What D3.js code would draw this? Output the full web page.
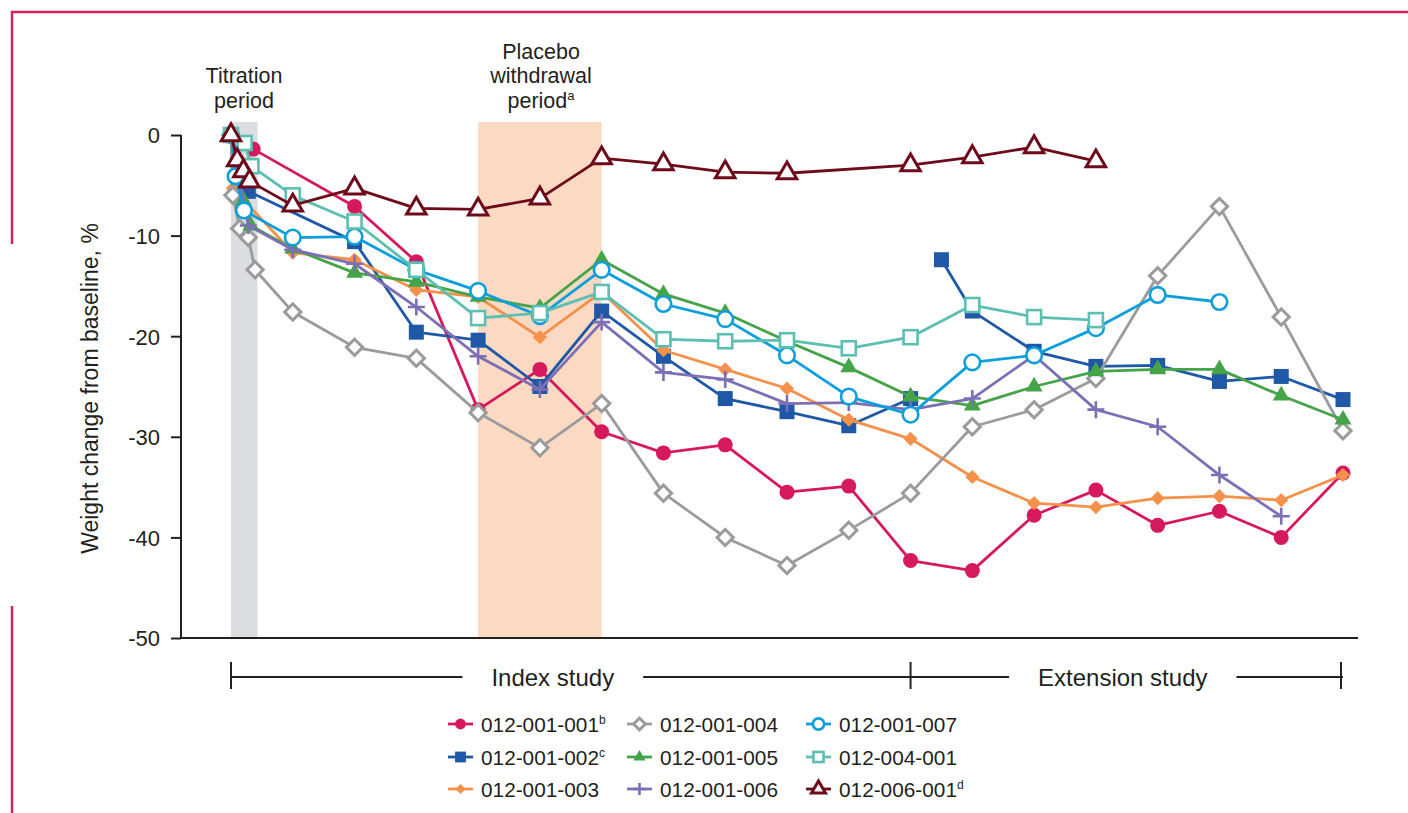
<!DOCTYPE html>
<html><head><meta charset="utf-8">
<script src="https://cdn.jsdelivr.net/npm/d3@7"></script>
<style>
html,body{margin:0;padding:0;background:#fff;}
svg{display:block;font-family:"Liberation Sans",Arial,Helvetica,sans-serif;}
</style></head><body>
<svg id="chart" width="1408" height="813"></svg>
<script>
// ---------------- data ----------------
const seriesNames = ["012-001-001","012-001-002","012-001-003","012-001-004","012-001-005","012-001-006","012-001-007","012-004-001","012-006-001"];
const seriesSup = ["b","c","","","","","","","d"];
const seriesColors = ["#d6195c","#1f58a6","#f5914a","#9b9b9b","#45a348","#7c6fb5","#0c9fdc","#5cbfb1","#6e0b1b"];
const seriesMarkers = ["circleFilled","squareFilled","diamondFilled","diamondOpen","triangleFilled","plus","circleOpen","squareOpen","triangleOpen"];

// visit positions (x) and weight change, % (y)
const x001 = [0, 0.36, 2, 3, 4, 5, 6, 7, 8, 9, 10, 11, 12, 13, 14, 15, 16, 17, 18];
const y001 = [0, -1.4, -7.1, -12.6, -27.3, -23.3, -29.5, -31.6, -30.8, -35.5, -34.9, -42.3, -43.3, -37.8, -35.3, -38.8, -37.4, -40.0, -33.6];

const x002 = [0, 0.28, 2, 3, 4, 5, 6, 7, 8, 9, 10, 11, 11.25, 11.5, 12, 13, 14, 15, 16, 17, 18];
const y002 = [0, -5.6, -10.6, -19.6, -20.4, -25.0, -17.5, -22.0, -26.2, -27.5, -28.9, -26.2, null, -12.4, -17.5, -21.5, -23.0, -22.9, -24.5, -24.0, -26.3];

const x003 = [0, 0.03, 1, 2, 3, 4, 5, 6, 7, 8, 9, 10, 11, 12, 13, 14, 15, 16, 17, 18];
const y003 = [0, -5.3, -11.7, -12.4, -15.4, -16.1, -20.1, -15.6, -21.4, -23.3, -25.2, -28.3, -30.2, -34.0, -36.6, -37.0, -36.1, -35.9, -36.3, -33.8];

const x004 = [0, 0.03, 0.14, 0.28, 0.39, 1, 2, 3, 4, 5, 6, 7, 8, 9, 10, 11, 12, 13, 14, 15, 16, 17, 18];
const y004 = [0, -6.0, -9.3, -10.2, -13.4, -17.6, -21.1, -22.2, -27.6, -31.1, -26.7, -35.6, -40.0, -42.8, -39.3, -35.6, -29.0, -27.3, -24.2, -14.0, -7.1, -18.1, -29.4];

const x005 = [0, 0.2, 0.32, 1, 2, 3, 4, 5, 6, 7, 8, 9, 10, 11, 12, 13, 14, 15, 16, 17, 18];
const y005 = [0, -6.5, -9.0, -11.3, -13.7, -14.6, -16.1, -17.2, -12.4, -15.8, -17.7, -20.5, -23.1, -26.0, -26.9, -25.0, -23.5, -23.3, -23.3, -25.9, -28.3];

const x006 = [0, 0.28, 1, 2, 3, 4, 5, 6, 7, 8, 9, 10, 11, 12, 13, 14, 15, 16, 17];
const y006 = [0, -9.0, -11.4, -12.8, -17.1, -22.0, -25.3, -18.6, -23.6, -24.3, -26.7, -26.6, -27.3, -26.2, -21.9, -27.3, -29.0, -33.8, -37.9];

const x007 = [0, 0.075, 0.21, 1, 2, 3, 4, 5, 6, 7, 8, 9, 10, 11, 12, 13, 14, 15, 16];
const y007 = [0, -4.1, -7.5, -10.2, -10.1, -13.4, -15.5, -18.0, -13.4, -16.8, -18.3, -21.9, -26.0, -27.8, -22.6, -21.9, -19.2, -15.9, -16.6];

const x401 = [0, 0.22, 0.33, 1, 2, 3, 4, 5, 6, 7, 8, 9, 10, 11, 12, 13, 14];
const y401 = [0, -0.8, -3.1, -6.0, -8.6, -13.4, -18.2, -17.7, -15.6, -20.3, -20.5, -20.4, -21.2, -20.1, -16.9, -18.1, -18.4];

const x601 = [0, 0.1, 0.2, 0.3, 1, 2, 3, 4, 5, 6, 7, 8, 9, 11, 12, 13, 14];
const y601 = [0, -2.5, -3.6, -4.6, -7.0, -5.3, -7.3, -7.4, -6.3, -2.3, -2.9, -3.7, -3.8, -3.0, -2.2, -1.2, -2.6];

const seriesX = [x001, x002, x003, x004, x005, x006, x007, x401, x601];
const seriesY = [y001, y002, y003, y004, y005, y006, y007, y401, y601];

const yTicks = [0, -10, -20, -30, -40, -50];
const yLabel = "Weight change from baseline, %";
const titrationPeriod = [0, 0.43];
const placeboPeriod = [4, 6];
const studyPhases = [{name: "Index study", from: 0, to: 11, shift: -18}, {name: "Extension study", from: 11, to: 18, shift: -4}];

// ---------------- chart ----------------
const svg = d3.select("#chart");
const FRAME = "#d6215f";
const TEXT = "#231f20";

// frame decoration
svg.append("path").attr("d", "M12,244 L12,12 L1408,12").attr("fill","none").attr("stroke",FRAME).attr("stroke-width",2.5);
svg.append("line").attr("x1",12).attr("x2",12).attr("y1",606).attr("y2",813).attr("stroke",FRAME).attr("stroke-width",2.5);

const x = d3.scaleLinear().domain([0, 18]).range([231, 1343]);
const y = d3.scaleLinear().domain([-50, 0]).range([638, 135]);

const bandTop = 122;
svg.append("rect").attr("x", x(titrationPeriod[0])).attr("y", bandTop)
  .attr("width", x(titrationPeriod[1]) - x(titrationPeriod[0])).attr("height", y(-50) - bandTop).attr("fill", "#dcdde0");
svg.append("rect").attr("x", x(placeboPeriod[0])).attr("y", bandTop)
  .attr("width", x(placeboPeriod[1]) - x(placeboPeriod[0])).attr("height", y(-50) - bandTop).attr("fill", "#fbd9c2");

// axes
const axisX = 181;
const yAxis = d3.axisLeft(y).tickValues(yTicks).tickSize(10).tickPadding(11).tickFormat(d => String(d));
const gy = svg.append("g").attr("transform", `translate(${axisX},0)`).call(yAxis);
gy.select(".domain").remove();
gy.selectAll(".tick line").attr("stroke", TEXT).attr("stroke-width", 2);
gy.selectAll(".tick text").attr("fill", TEXT).style("font-size", "22px").attr("font-family", null).attr("dy","0.36em");
svg.append("line").attr("x1", axisX).attr("x2", axisX).attr("y1", y(0)).attr("y2", y(-50)).attr("stroke", TEXT).attr("stroke-width", 2);
svg.append("line").attr("x1", axisX - 1).attr("x2", 1358).attr("y1", y(-50)).attr("y2", y(-50)).attr("stroke", TEXT).attr("stroke-width", 2);

svg.append("text").attr("transform", `translate(98,${(y(0)+y(-50))/2 + 2}) rotate(-90)`)
  .attr("text-anchor","middle").attr("fill",TEXT).style("font-size","23px").text(yLabel);

// period labels
function multiline(lines, cx, baselines, sup) {
  lines.forEach((l, i) => {
    const t = svg.append("text").attr("x", cx).attr("y", baselines[i]).attr("text-anchor","middle")
      .attr("fill",TEXT).style("font-size","21.5px");
    t.append("tspan").text(l);
    if (sup && i === lines.length - 1) {
      t.append("tspan").attr("dy", -8).style("font-size","13px").text(sup);
    }
  });
}
multiline(["Titration", "period"], 244, [83, 107.5], null);
multiline(["Placebo", "withdrawal", "period"], 541, [58.5, 83, 107.5], "a");

// series
const line = d3.line().defined(d => d[1] !== null).x(d => x(d[0])).y(d => y(d[1]));

function drawMarker(g, type, color, cx, cy, s) {
  const sw = 2.6;
  switch (type) {
    case "circleFilled":
      g.append("circle").attr("cx",cx).attr("cy",cy).attr("r",7.5*s).attr("fill",color); break;
    case "squareFilled": {
      const a = 15*s;
      g.append("rect").attr("x",cx-a/2).attr("y",cy-a/2).attr("width",a).attr("height",a).attr("fill",color); break; }
    case "diamondFilled":
      g.append("path").attr("d", d3.symbol(d3.symbolSquare, Math.pow(10*s,2))()).attr("transform",`translate(${cx},${cy}) rotate(45)`).attr("fill",color); break;
    case "diamondOpen":
      g.append("path").attr("d", d3.symbol(d3.symbolSquare, Math.pow(11.5*s,2))()).attr("transform",`translate(${cx},${cy}) rotate(45)`)
        .attr("fill","#fff").attr("stroke",color).attr("stroke-width",sw+0.4); break;
    case "triangleFilled":
      g.append("path").attr("d", d3.symbol(d3.symbolTriangle, Math.sqrt(3)/4*Math.pow(17*s,2))()).attr("transform",`translate(${cx},${cy})`).attr("fill",color); break;
    case "plus": {
      const h = 8.5*s;
      g.append("path").attr("d",`M${cx-h},${cy}H${cx+h}M${cx},${cy-h}V${cy+h}`).attr("stroke",color).attr("stroke-width",sw).attr("fill","none"); break; }
    case "circleOpen":
      g.append("circle").attr("cx",cx).attr("cy",cy).attr("r",7.8*s).attr("fill","#fff").attr("stroke",color).attr("stroke-width",sw); break;
    case "squareOpen": {
      const a = 14*s;
      g.append("rect").attr("x",cx-a/2).attr("y",cy-a/2).attr("width",a).attr("height",a).attr("fill","#fff").attr("stroke",color).attr("stroke-width",sw); break; }
    case "triangleOpen":
      g.append("path").attr("d", d3.symbol(d3.symbolTriangle, Math.sqrt(3)/4*Math.pow(19.5*s,2))()).attr("transform",`translate(${cx},${cy})`)
        .attr("fill","#fff").attr("stroke",color).attr("stroke-width",sw+0.4).attr("stroke-linejoin","miter"); break;
  }
}

seriesNames.forEach((name, i) => {
  const pts = seriesX[i].map((xv, j) => [xv, seriesY[i][j]]);
  const g = svg.append("g");
  g.append("path").datum(pts).attr("d", line).attr("fill","none").attr("stroke", seriesColors[i]).attr("stroke-width", 2.8).attr("stroke-linejoin","round");
  pts.filter(d => d[1] !== null).forEach(d => drawMarker(g, seriesMarkers[i], seriesColors[i], x(d[0]), y(d[1]), 1));
});

// study phase brackets
const brY = 677;
studyPhases.forEach(p => {
  const x0 = x(p.from), x1 = x(p.to), cx = (x0 + x1) / 2 + p.shift;
  const t = svg.append("text").attr("x", cx).attr("y", brY + 8.5).attr("text-anchor","middle").attr("fill",TEXT).style("font-size","24px").text(p.name);
  const bb = t.node().getBBox();
  const gap = 29;
  svg.append("line").attr("x1", x0).attr("x2", bb.x - gap).attr("y1", brY).attr("y2", brY).attr("stroke",TEXT).attr("stroke-width",2);
  svg.append("line").attr("x1", bb.x + bb.width + gap).attr("x2", x1).attr("y1", brY).attr("y2", brY).attr("stroke",TEXT).attr("stroke-width",2);
});
[0, 11, 18].forEach(v => {
  const xv = x(v) - (v === 18 ? 2 : 0);
  svg.append("line").attr("x1", xv).attr("x2", xv).attr("y1", brY - 15).attr("y2", brY + 12).attr("stroke",TEXT).attr("stroke-width",2);
});

// legend
const legCols = [448, 627, 806];
const legRows = [724, 757, 789];
seriesNames.forEach((name, i) => {
  const col = Math.floor(i / 3), row = i % 3;
  const lx = legCols[col], ly = legRows[row];
  const g = svg.append("g");
  g.append("line").attr("x1", lx).attr("x2", lx + 25).attr("y1", ly).attr("y2", ly).attr("stroke", seriesColors[i]).attr("stroke-width", 2.8);
  drawMarker(g, seriesMarkers[i], seriesColors[i], lx + 12.5, ly, 0.72);
  const t = g.append("text").attr("x", lx + 33).attr("y", ly + 7.5).attr("fill", TEXT).style("font-size","20.8px");
  t.append("tspan").text(name);
  if (seriesSup[i]) t.append("tspan").attr("dy", -8).style("font-size","12px").text(seriesSup[i]);
});
</script>
</body></html>
